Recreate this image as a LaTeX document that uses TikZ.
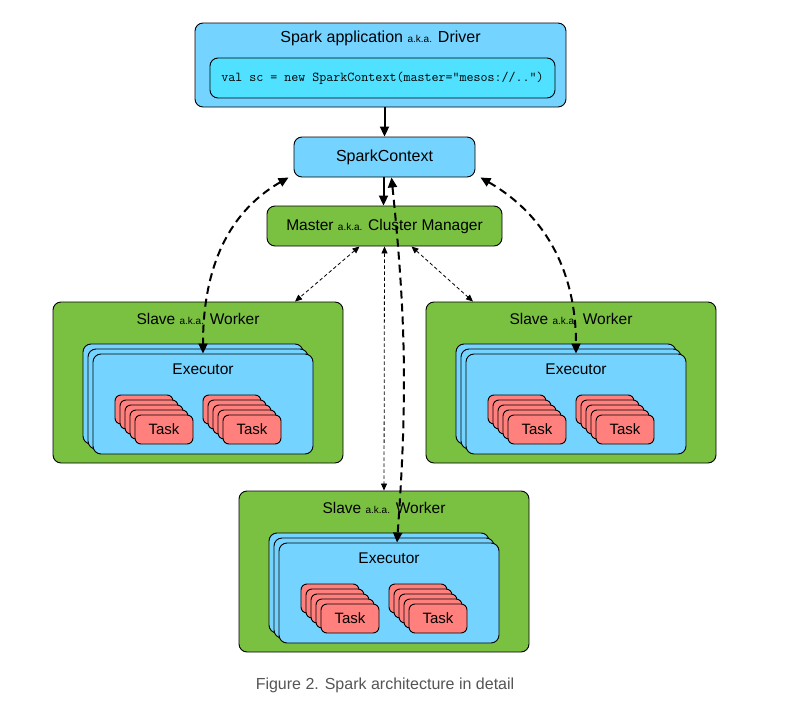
\documentclass[tikz,border=0pt]{standalone}
\usepackage{fontspec}
\setmainfont{Liberation Sans}
\usetikzlibrary{arrows.meta}

\definecolor{skyblue}{HTML}{75D4FF}
\definecolor{codecyan}{HTML}{4FE1FF}
\definecolor{workergreen}{HTML}{7AC142}
\definecolor{taskred}{HTML}{FF807C}
\definecolor{captiongrey}{HTML}{555555}

\newcommand{\akatext}{{\fontsize{10}{12}\selectfont a.k.a.}}

\begin{document}
\begin{tikzpicture}[x=1pt, y=1pt,
  every node/.style={font=\fontsize{15.5}{18}\selectfont},
  box/.style={draw, line width=0.9pt, rounded corners=8pt, inner sep=0pt},
  thick arrow/.style={line width=2pt, -{Triangle[length=10pt,width=9pt]}},
  thin link/.style={line width=0.8pt, dash pattern=on 3.5pt off 2.5pt,
    {Triangle[length=7pt,width=6pt]}-{Triangle[length=7pt,width=6pt]}},
  long link/.style={line width=2pt, dash pattern=on 8pt off 5pt,
    {Triangle[length=10pt,width=9pt]}-{Triangle[length=10pt,width=9pt]}}]

% the page
\useasboundingbox (0,0) rectangle (785,-704);
\fill[white] (0,0) rectangle (785,-704);

% the driver
\node[box, fill=skyblue, minimum width=371pt, minimum height=84pt] (driver) at (380.5,-65) {};
\node[font=\fontsize{16}{19}\selectfont] (drivertitle) at (380.5,-38.5) {Spark application \akatext{} Driver};
\node[box, fill=codecyan, minimum width=345pt, minimum height=40pt,
  font=\ttfamily\fontsize{13.6}{15}\selectfont] (code) at (382.5,-78) {val sc = new SparkContext(master=“mesos://..”)};

% spark context and master
\node[box, fill=skyblue, minimum width=181pt, minimum height=40pt,
  font=\fontsize{16}{19}\selectfont] (sc) at (384.5,-157) {SparkContext};
\node[box, fill=workergreen, minimum width=235pt, minimum height=40pt] (master) at (384.5,-226) {Master \akatext{} Cluster Manager};

% the workers
\foreach \wx/\wy/\n in {53/302/l, 426/302/r, 239/491/b} {
  \node[box, fill=workergreen, minimum width=290pt, minimum height=161pt] (w\n) at (\wx+145,-\wy-80.5) {};
  \node (wt\n) at (\wx+145,-\wy-16.5) {Slave \akatext{} Worker};
  % executor stack
  \foreach \k in {0,1,2}
    \node[box, fill=skyblue, minimum width=220pt, minimum height=100pt] (ex\n\k) at (\wx+140+5*\k,-\wy-92-5*\k) {};
  \node (el\n) at (\wx+150,-\wy-67.5) {Executor};
  % task stacks
  \foreach \tx in {62,150}
    \foreach \k in {0,...,4}
      \node[box, fill=taskred, rounded corners=6pt, minimum width=58pt, minimum height=29pt,
        font=\fontsize{15}{18}\selectfont] (t\n\tx\k) at (\wx+\tx+29+5*\k,-\wy-107.5-5*\k) {\ifnum\k=4 Task\fi};
}

% connections
\draw[thick arrow] (sc.north |- driver.south) -- (sc.north);
\draw[thick arrow] ([xshift=-1pt]sc.south) -- ([xshift=-1pt]master.north);
\draw[thin link] ([xshift=-25pt]master.south) -- ([xshift=97pt]wl.north);
\draw[thin link] ([xshift=27pt]master.south) -- ([xshift=-98pt]wr.north);
\draw[thin link] (master.south) -- (wb.north);
\draw[long link] ([xshift=-5pt]sc.south west) to[out=210, in=90] (exl2.north);
\draw[long link] ([xshift=5pt]sc.south east) to[out=-30, in=90] (exr2.north);
\draw[long link] ([xshift=7pt]sc.south) to[bend left=5] ([xshift=8pt]exb2.north);

% caption
\node[text=captiongrey, font=\fontsize{16}{19}\selectfont] (caption) at (385,-685) {Figure 2. Spark architecture in detail};

\end{tikzpicture}
\end{document}
